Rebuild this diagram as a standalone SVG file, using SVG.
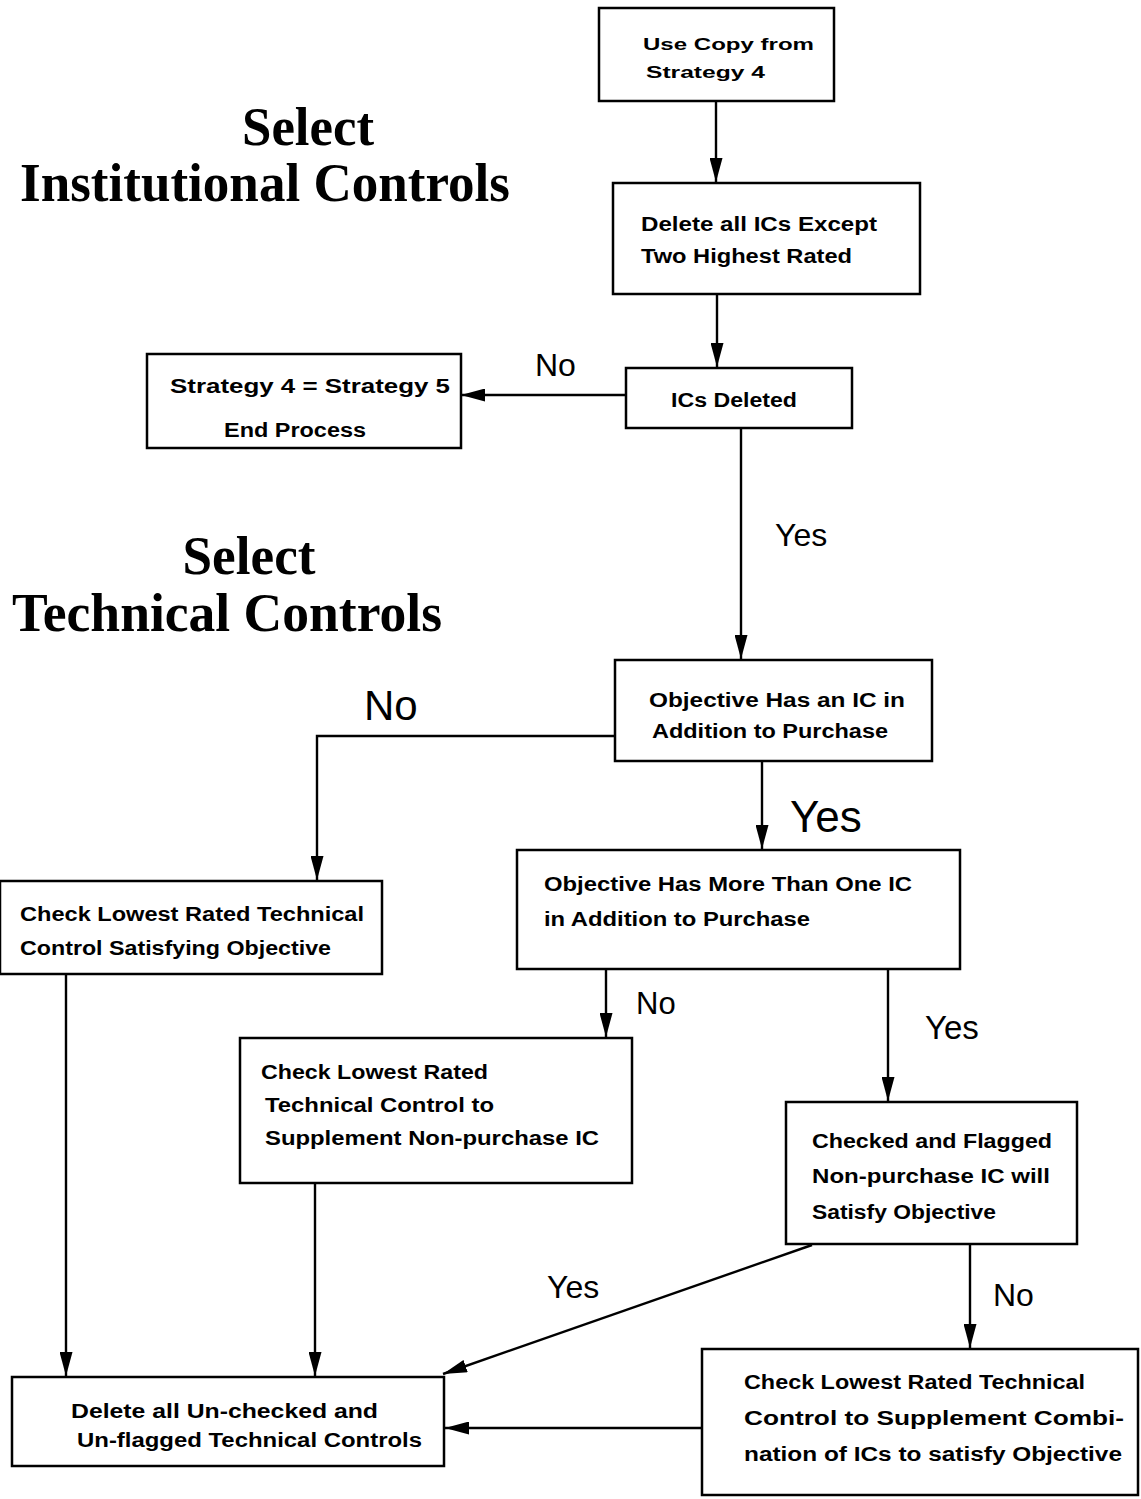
<svg xmlns="http://www.w3.org/2000/svg" width="1141" height="1499" viewBox="0 0 1141 1499">
<style>
.box{fill:#fff;stroke:#000;stroke-width:2.5}
.t{font-family:"Liberation Sans",Arial,sans-serif;font-weight:bold;font-size:20px;fill:#000}
.lbl{font-family:"Liberation Sans",Arial,sans-serif;font-size:32px;fill:#000}
.title{font-family:"Liberation Serif","Times New Roman",serif;font-weight:bold;font-size:54px;fill:#000}
.c{fill:none;stroke:#000;stroke-width:2.4}
</style>
<defs>
<marker id="ah" markerUnits="userSpaceOnUse" markerWidth="24" markerHeight="13" refX="24" refY="6.5" orient="auto">
<path d="M0,0 L24,6.5 L0,13 z" fill="#000"/>
</marker>
</defs>
<rect width="1141" height="1499" fill="#fff"/>
<g id="titles">
<text class="title" x="308" y="145" text-anchor="middle" textLength="132" lengthAdjust="spacingAndGlyphs">Select</text>
<text class="title" x="20" y="201" textLength="490" lengthAdjust="spacingAndGlyphs">Institutional Controls</text>
<text class="title" x="249" y="574" text-anchor="middle" textLength="133" lengthAdjust="spacingAndGlyphs">Select</text>
<text class="title" x="12" y="631" textLength="430" lengthAdjust="spacingAndGlyphs">Technical Controls</text>
</g>
<g id="connectors">
<path class="c" d="M716,101 V182" marker-end="url(#ah)"/>
<path class="c" d="M717,294 V367" marker-end="url(#ah)"/>
<path class="c" d="M626,395 H461" marker-end="url(#ah)"/>
<path class="c" d="M741,428 V659" marker-end="url(#ah)"/>
<path class="c" d="M615,736 H317 V880" marker-end="url(#ah)"/>
<path class="c" d="M762,761 V849" marker-end="url(#ah)"/>
<path class="c" d="M606,969 V1037" marker-end="url(#ah)"/>
<path class="c" d="M888,969 V1101" marker-end="url(#ah)"/>
<path class="c" d="M66,974 V1376" marker-end="url(#ah)"/>
<path class="c" d="M315,1183 V1376" marker-end="url(#ah)"/>
<path class="c" d="M812,1245 L443,1374" marker-end="url(#ah)"/>
<path class="c" d="M970,1244 V1348" marker-end="url(#ah)"/>
<path class="c" d="M702,1428 H445" marker-end="url(#ah)"/>
<text class="lbl" x="535" y="376">No</text>
<text class="lbl" x="775" y="546" font-size="33">Yes</text>
<text class="lbl" x="364" y="720" style="font-size:42px">No</text>
<text class="lbl" x="790" y="832" style="font-size:44px">Yes</text>
<text class="lbl" x="636" y="1014" style="font-size:31px">No</text>
<text class="lbl" x="925" y="1039" style="font-size:33px">Yes</text>
<text class="lbl" x="547" y="1298">Yes</text>
<text class="lbl" x="993" y="1306">No</text>
</g>
<g id="n1">
<rect class="box" x="599" y="8" width="235" height="93"/>
<text class="t" x="643" y="50" style="font-size:17px" textLength="171" lengthAdjust="spacingAndGlyphs">Use Copy from</text>
<text class="t" x="646" y="78" style="font-size:17px" textLength="119" lengthAdjust="spacingAndGlyphs">Strategy 4</text>
</g>
<g id="n2">
<rect class="box" x="613" y="183" width="307" height="111"/>
<text class="t" x="641" y="231" textLength="236" lengthAdjust="spacingAndGlyphs">Delete all ICs Except</text>
<text class="t" x="641" y="263" textLength="211" lengthAdjust="spacingAndGlyphs">Two Highest Rated</text>
</g>
<g id="n3">
<rect class="box" x="626" y="368" width="226" height="60"/>
<text class="t" x="671" y="407" textLength="126" lengthAdjust="spacingAndGlyphs">ICs Deleted</text>
</g>
<g id="n4">
<rect class="box" x="147" y="354" width="314" height="94"/>
<text class="t" x="170" y="393" textLength="280" lengthAdjust="spacingAndGlyphs">Strategy 4 = Strategy 5</text>
<text class="t" x="224" y="437" textLength="142" lengthAdjust="spacingAndGlyphs">End Process</text>
</g>
<g id="n5">
<rect class="box" x="615" y="660" width="317" height="101"/>
<text class="t" x="649" y="707" textLength="256" lengthAdjust="spacingAndGlyphs">Objective Has an IC in</text>
<text class="t" x="652" y="738" textLength="236" lengthAdjust="spacingAndGlyphs">Addition to Purchase</text>
</g>
<g id="n6">
<rect class="box" x="0" y="881" width="382" height="93"/>
<text class="t" x="20" y="921" textLength="344" lengthAdjust="spacingAndGlyphs">Check Lowest Rated Technical</text>
<text class="t" x="20" y="955" textLength="311" lengthAdjust="spacingAndGlyphs">Control Satisfying Objective</text>
</g>
<g id="n7">
<rect class="box" x="517" y="850" width="443" height="119"/>
<text class="t" x="544" y="891" textLength="368" lengthAdjust="spacingAndGlyphs">Objective Has More Than One IC</text>
<text class="t" x="544" y="926" textLength="266" lengthAdjust="spacingAndGlyphs">in Addition to Purchase</text>
</g>
<g id="n8">
<rect class="box" x="240" y="1038" width="392" height="145"/>
<text class="t" x="261" y="1079" textLength="227" lengthAdjust="spacingAndGlyphs">Check Lowest Rated</text>
<text class="t" x="265" y="1112" textLength="229" lengthAdjust="spacingAndGlyphs">Technical Control to</text>
<text class="t" x="265" y="1145" textLength="334" lengthAdjust="spacingAndGlyphs">Supplement Non-purchase IC</text>
</g>
<g id="n9">
<rect class="box" x="786" y="1102" width="291" height="142"/>
<text class="t" x="812" y="1148" textLength="240" lengthAdjust="spacingAndGlyphs">Checked and Flagged</text>
<text class="t" x="812" y="1183" textLength="238" lengthAdjust="spacingAndGlyphs">Non-purchase IC will</text>
<text class="t" x="812" y="1219" textLength="184" lengthAdjust="spacingAndGlyphs">Satisfy Objective</text>
</g>
<g id="n10">
<rect class="box" x="12" y="1377" width="432" height="89"/>
<text class="t" x="71" y="1418" textLength="307" lengthAdjust="spacingAndGlyphs">Delete all Un-checked and</text>
<text class="t" x="77" y="1447" textLength="345" lengthAdjust="spacingAndGlyphs">Un-flagged Technical Controls</text>
</g>
<g id="n11">
<rect class="box" x="702" y="1349" width="436" height="146"/>
<text class="t" x="744" y="1389" textLength="341" lengthAdjust="spacingAndGlyphs">Check Lowest Rated Technical</text>
<text class="t" x="744" y="1425" textLength="380" lengthAdjust="spacingAndGlyphs">Control to Supplement Combi-</text>
<text class="t" x="744" y="1461" textLength="378" lengthAdjust="spacingAndGlyphs">nation of ICs to satisfy Objective</text>
</g>
</svg>
